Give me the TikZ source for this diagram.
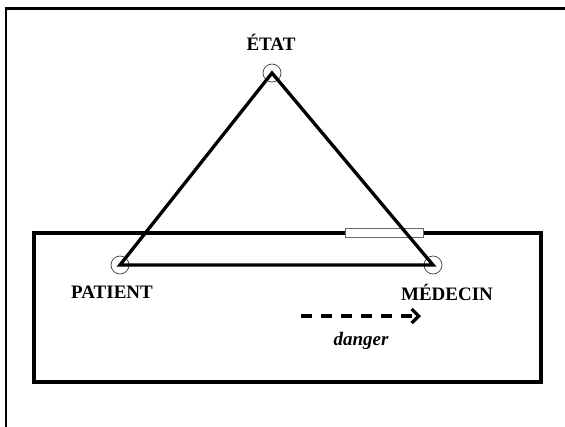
\documentclass[tikz,border=0pt]{standalone}
\usepackage{fontspec}
\setmainfont{Liberation Serif}
\usetikzlibrary{arrows.meta}
\begin{document}
\begin{tikzpicture}[x=1pt,y=-1pt,
  frameline/.style={line width=2.4pt},
  boxline/.style={line width=3.2pt},
  triline/.style={line width=3.3pt, line join=miter},
  vcircle/.style={circle, draw=black!75, line width=0.7pt, minimum size=18pt, inner sep=0pt},
  lab/.style={font=\fontsize{19}{21}\selectfont\bfseries, inner sep=0pt},
  gap/.style={draw=black!60, fill=white, line width=0.8pt}
]
\useasboundingbox (0,0) rectangle (565,426);
% outer frame (only top and left visible)
\draw[frameline] (6,430) -- (6,8.5) -- (570,8.5);
% inner rectangle
\draw[boxline] (34,233) rectangle (541,382);
% white gap on the top edge
\draw[gap] (345,228.5) rectangle (423,237.5);
% vertex circles
\node[vcircle] (E) at (272,73) {};
\node[vcircle] (P) at (120,265) {};
\node[vcircle] (M) at (433,265) {};
% triangle
\draw[triline] (E.center) -- (P.center) -- (M.center) -- cycle;
% labels
\node[lab] (le) at (271,42) {ÉTAT};
\node[lab] (lp) at (112,292) {PATIENT};
\node[lab] (lm) at (447,292) {MÉDECIN};
% danger arrow
\coordinate (a1) at (301,316);
\coordinate (a2) at (421,316);
\draw[line width=3.3pt, dash pattern=on 11pt off 9pt, -{Straight Barb[length=7pt,width=14pt,line width=3.3pt]}] (a1) -- (a2);
\node[font=\fontsize{19}{21}\selectfont\bfseries\itshape, inner sep=0pt, anchor=base] (ld) at (361,345) {danger};
\end{tikzpicture}
\end{document}
